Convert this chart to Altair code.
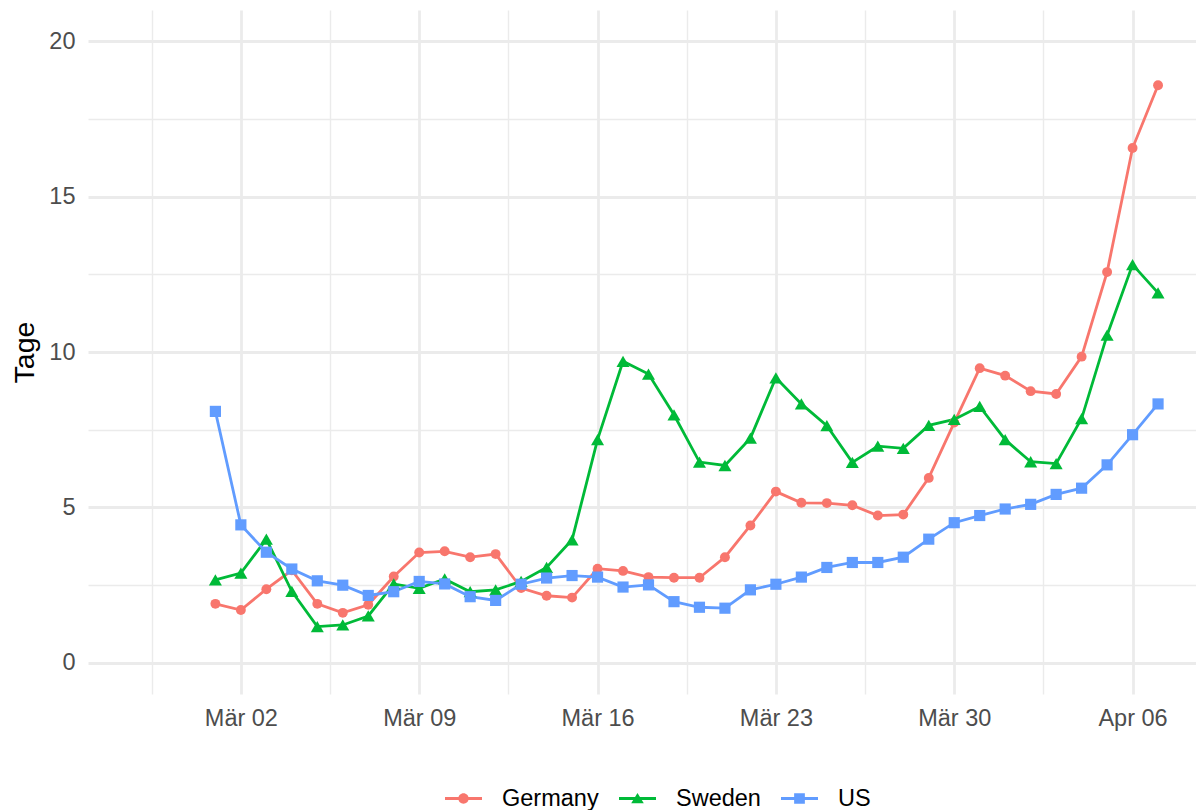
import json
import altair as alt
import pandas as pd

# ---------------- data ----------------
dates = pd.date_range("2020-03-01", "2020-04-07", freq="D").strftime("%Y-%m-%d").tolist()

germany = [1.90, 1.70, 2.37, 2.98, 1.90, 1.61, 1.87, 2.78, 3.55, 3.59,
           3.40, 3.50, 2.41, 2.16, 2.10, 3.03, 2.96, 2.76, 2.74, 2.74,
           3.40, 4.42, 5.51, 5.15, 5.14, 5.07, 4.74, 4.77, 5.95, 7.73,
           9.48, 9.24, 8.74, 8.65, 9.85, 12.57, 16.56, 18.58]
sweden = [2.67, 2.89, 3.98, 2.30, 1.17, 1.22, 1.51, 2.54, 2.40, 2.70,
          2.29, 2.35, 2.62, 3.07, 3.96, 7.18, 9.70, 9.29, 7.98, 6.46,
          6.35, 7.23, 9.17, 8.33, 7.63, 6.45, 6.97, 6.90, 7.64, 7.83,
          8.25, 7.18, 6.47, 6.41, 7.86, 10.54, 12.81, 11.90]
us = [8.09, 4.44, 3.56, 3.02, 2.64, 2.50, 2.17, 2.29, 2.62, 2.54,
      2.13, 2.01, 2.53, 2.73, 2.81, 2.76, 2.44, 2.51, 1.97, 1.79,
      1.76, 2.35, 2.53, 2.76, 3.07, 3.23, 3.23, 3.40, 3.98, 4.51,
      4.74, 4.95, 5.10, 5.42, 5.62, 6.37, 7.34, 8.33]

countries = ["Germany", "Sweden", "US"]
colors = ["#F8766D", "#00BA38", "#619CFF"]
shapes = ["circle", "triangle-up", "square"]
point_sizes = [98, 170, 125]

month_names = ["Jan", "Feb", "Mär", "Apr", "Mai", "Jun",
               "Jul", "Aug", "Sep", "Okt", "Nov", "Dez"]
y_ticks = [0, 2.5, 5, 7.5, 10, 12.5, 15, 17.5, 20]
x_major = ["2020-03-02", "2020-03-09", "2020-03-16", "2020-03-23", "2020-03-30", "2020-04-06"]
x_minor = ["2020-02-27 12:00", "2020-03-05 12:00", "2020-03-12 12:00",
           "2020-03-19 12:00", "2020-03-26 12:00", "2020-04-02 12:00"]
x_domain = ["2020-02-25 00:00", "2020-04-08 11:45"]
y_domain = [-1, 21]


def ms(s):
    return int(pd.Timestamp(s, tz="UTC").value // 10**6)


df = pd.DataFrame({
    "date": dates * 3,
    "value": germany + sweden + us,
    "country": [c for c in countries for _ in dates],
})

# legend symbols: line segment + marker (custom SVG paths, unit coordinates)
bar = "M-1,-0.075 L1,-0.075 L1,0.075 L-1,0.075 Z "
legend_paths = [
    bar + "M0.28,0 A0.28,0.28 0 1,1 -0.28,0 A0.28,0.28 0 1,1 0.28,0 Z",
    bar + "M0,-0.30 L0.34,0.26 L-0.34,0.26 Z",
    bar + "M-0.29,-0.29 L0.29,-0.29 L0.29,0.29 L-0.29,0.29 Z",
]

months_js = json.dumps(month_names, ensure_ascii=False).replace('"', "'")
grid_col = "#EBEBEB"
font = "Liberation Sans"

x_enc = alt.X(
    "date:T",
    title=None,
    scale=alt.Scale(type="utc", domain=[ms(d) for d in x_domain], nice=False),
    axis=alt.Axis(
        values=sorted([ms(d) for d in x_major + x_minor]),
        labelExpr=f"utchours(datum.value) == 12 ? '' : {months_js}[utcmonth(datum.value)] + ' ' + utcFormat(datum.value, '%d')",
        grid=True,
        gridColor=grid_col,
        gridWidth={"condition": {"test": "utchours(datum.value) == 12", "value": 1.4}, "value": 2.8},
        domain=False,
        ticks=False,
        tickSize=0,
        labelPadding=12,
        labelFontSize=23.5,
        labelFont=font,
        labelColor="#4D4D4D",
        labelOverlap=False,
        labelFlush=False,
    ),
)

y_enc = alt.Y(
    "value:Q",
    title="Tage",
    scale=alt.Scale(domain=y_domain, nice=False, zero=False),
    axis=alt.Axis(
        values=y_ticks,
        labelExpr="datum.value % 5 == 0 ? format(datum.value, 'd') : ''",
        grid=True,
        gridColor=grid_col,
        gridWidth={"condition": {"test": "datum.value % 5 != 0", "value": 1.4}, "value": 2.8},
        domain=False,
        ticks=False,
        tickSize=0,
        labelPadding=13,
        labelFontSize=23.5,
        labelFont=font,
        labelColor="#4D4D4D",
        titleFont=font,
        titleFontSize=28.5,
        titleFontWeight="normal",
        titleColor="#000000",
        titleAngle=270,
        titleBaseline="alphabetic",
        titleX=-55,
        titleY=342,
    ),
)

legend = alt.Legend(
    title=None,
    orient="none",
    legendX=357,
    legendY=770,
    direction="horizontal",
    symbolSize=1369,
    symbolStrokeWidth=0,
    symbolOpacity=1,
    labelFontSize=23.5,
    labelFont=font,
    labelColor="#000000",
    labelOffset=20,
    columnPadding=20,
    padding=0,
)

base = alt.Chart(df)

line_layers = []
point_layers = []
for c, col, shp, sz in zip(countries, colors, shapes, point_sizes):
    sub = base.transform_filter(alt.datum.country == c)
    line_layers.append(
        sub.mark_line(strokeWidth=2.8, color=col).encode(x=x_enc, y=y_enc)
    )
    point_layers.append(
        sub.mark_point(filled=True, opacity=1, strokeWidth=0, shape=shp,
                       size=sz, color=col).encode(x=x_enc, y=y_enc)
    )

# invisible layer whose only job is to carry the legend (line + marker symbols)
legend_layer = base.mark_point(filled=True, opacity=0).encode(
    x=x_enc,
    y=y_enc,
    color=alt.Color("country:N", scale=alt.Scale(domain=countries, range=colors), legend=legend),
    shape=alt.Shape("country:N", scale=alt.Scale(domain=countries, range=legend_paths), legend=legend),
)

chart = (
    alt.layer(*line_layers, *point_layers, legend_layer)
    .properties(
        width=1108,
        height=684,
        autosize=alt.AutoSizeParams(type="none"),
        padding={"left": 80, "top": 2, "right": 0, "bottom": 116},
        background="#FFFFFF",
    )
    .configure(font=font)
    .configure_view(strokeWidth=0)
)

chart.save("out.html", embed_options={"renderer": "svg", "actions": False})
